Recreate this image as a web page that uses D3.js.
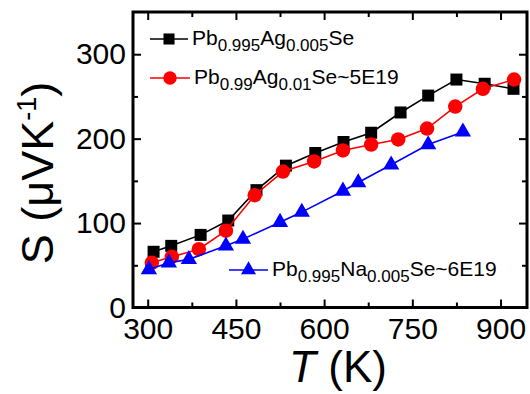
<!DOCTYPE html>
<html>
<head>
<meta charset="utf-8">
<script src="https://cdn.jsdelivr.net/npm/d3@7"></script>
<style>
  body { margin: 0; background: #fff; }
  svg text { font-family: "Liberation Sans", Arial, sans-serif; }
</style>
</head>
<body>
<div id="chart"></div>
<script>
// Data
const agT1 = [310, 340, 390, 437, 485, 535, 585, 633, 680, 730, 777, 825, 873, 922]
const agS1 = [66, 73, 86, 103, 139, 168, 183, 196, 207, 231, 251, 270, 265, 259]
const agT2 = [307, 341, 387, 433, 482, 530, 583, 632, 680, 726, 775, 823, 870, 923]
const agS2 = [53, 60, 69, 91, 133, 161, 173, 186, 193, 199, 212, 238, 259, 270]
const naT = [302, 336, 370, 433, 462, 525, 562, 632, 658, 714, 777, 836]
const naS = [45, 53, 57, 73, 81, 101, 113, 138, 148, 169, 193, 208]
const xTicks = [300, 450, 600, 750, 900]
const xMinor = [375, 525, 675, 825]
const yTicks = [0, 100, 200, 300]
const yMinor = [50, 150, 250]

// Dimensions
const width = 530
const height = 394
const frame = {left: 133, right: 527, top: 12, bottom: 307.5}

const svg = d3.select("#chart")
  .append("svg")
    .attr("width", width)
    .attr("height", height)

const xScale = d3.scaleLinear()
    .domain([275, 945])
    .range([frame.left, frame.right])
const yScale = d3.scaleLinear()
    .domain([0, 350])
    .range([frame.bottom, frame.top])

// Ticks on all four sides, pointing inward
function addTicks(axis, transform, values, size, labels) {
  const g = svg.append("g")
    .attr("transform", transform)
    .call(axis.tickValues(values).tickSizeInner(size).tickSizeOuter(0)
      .tickPadding(labels ? 8 : 0)
      .tickFormat(labels ? d3.format("d") : ""))
  g.select(".domain").remove()
  g.selectAll(".tick line").attr("stroke", "#000").attr("stroke-width", 2)
  g.selectAll(".tick text")
    .attr("fill", "#000")
    .style("font-size", "30px")
  return g
}

const gx = addTicks(d3.axisBottom(xScale), `translate(0,${frame.bottom})`, xTicks, -8, true)
gx.selectAll(".tick text").attr("dy", "0.71em").attr("y", 10)
addTicks(d3.axisBottom(xScale), `translate(0,${frame.bottom})`, xMinor, -5, false)
addTicks(d3.axisTop(xScale), `translate(0,${frame.top})`, xTicks, -8, false)
addTicks(d3.axisTop(xScale), `translate(0,${frame.top})`, xMinor, -5, false)

const gy = addTicks(d3.axisLeft(yScale), `translate(${frame.left},0)`, yTicks, -8, true)
gy.selectAll(".tick text").attr("x", -7)
addTicks(d3.axisLeft(yScale), `translate(${frame.left},0)`, yMinor, -5, false)
addTicks(d3.axisRight(yScale), `translate(${frame.right},0)`, yTicks, -8, false)
addTicks(d3.axisRight(yScale), `translate(${frame.right},0)`, yMinor, -5, false)

// Frame
svg.append("rect")
  .attr("x", frame.left)
  .attr("y", frame.top)
  .attr("width", frame.right - frame.left)
  .attr("height", frame.bottom - frame.top)
  .attr("fill", "none")
  .attr("stroke", "#000")
  .attr("stroke-width", 3)

// Series
const series = [
  {t: agT1, s: agS1, color: "#000000", symbol: d3.symbolSquare, size: 144},
  {t: agT2, s: agS2, color: "#ff0000", symbol: d3.symbolCircle, size: 165},
  {t: naT, s: naS, color: "#0000ff", symbol: d3.symbolTriangle, size: 115},
]

const line = d3.line()
    .x(function(d) { return xScale(d[0]) })
    .y(function(d) { return yScale(d[1]) })

series.forEach(function(ser) {
  const pts = ser.t.map(function(t, i) { return [t, ser.s[i]] })
  svg.append("path")
    .datum(pts)
    .attr("fill", "none")
    .attr("stroke", ser.color)
    .attr("stroke-width", 1.6)
    .attr("d", line)

  svg.selectAll(null)
    .data(pts)
    .enter().append("path")
    .attr("transform", function(d) { return `translate(${xScale(d[0])},${yScale(d[1])})` })
    .attr("d", d3.symbol().type(ser.symbol).size(ser.size))
    .attr("fill", ser.color)
})

// Legend entries
const legendItems = [
  {x: 150, y: 39, len: 38, ser: series[0], parts: [["Pb", 0], ["0.995", 1], ["Ag", 0], ["0.005", 1], ["Se", 0]]},
  {x: 150, y: 78, len: 40, ser: series[1], parts: [["Pb", 0], ["0.99", 1], ["Ag", 0], ["0.01", 1], ["Se~5E19", 0]]},
  {x: 229, y: 270, len: 39, ser: series[2], parts: [["Pb", 0], ["0.995", 1], ["Na", 0], ["0.005", 1], ["Se~6E19", 0]]},
]

legendItems.forEach(function(it) {
  svg.append("line")
    .attr("x1", it.x).attr("x2", it.x + it.len)
    .attr("y1", it.y).attr("y2", it.y)
    .attr("stroke", it.ser.color)
    .attr("stroke-width", 1.6)
  svg.append("path")
    .attr("transform", `translate(${it.x + it.len / 2},${it.y})`)
    .attr("d", d3.symbol().type(it.ser.symbol).size(it.ser.size * 0.85))
    .attr("fill", it.ser.color)
  const txt = svg.append("text")
    .attr("x", it.x + it.len + 4)
    .attr("y", it.y + 6)
    .attr("fill", "#000")
    .style("font-size", "21px")
  let shifted = false
  it.parts.forEach(function(p) {
    const span = txt.append("tspan").text(p[0])
    if (p[1] === 1) {
      span.attr("dy", 6).style("font-size", "17px")
      shifted = true
    } else if (shifted) {
      span.attr("dy", -6)
      shifted = false
    }
  })
})

// Axis titles
const yTitle = svg.append("text")
  .attr("transform", "translate(53,173) rotate(-90)")
  .attr("text-anchor", "middle")
  .attr("fill", "#000")
  .style("font-size", "45px")
yTitle.append("tspan").text("S (\u03bcVK")
yTitle.append("tspan").text("-1").attr("dy", -17).style("font-size", "27px")
yTitle.append("tspan").text(")").attr("dy", 17)

const xTitle = svg.append("text")
  .attr("x", 338)
  .attr("y", 382)
  .attr("text-anchor", "middle")
  .attr("fill", "#000")
  .style("font-size", "44px")
xTitle.append("tspan").text("T").style("font-style", "italic")
xTitle.append("tspan").text(" (K)")
</script>
</body>
</html>
